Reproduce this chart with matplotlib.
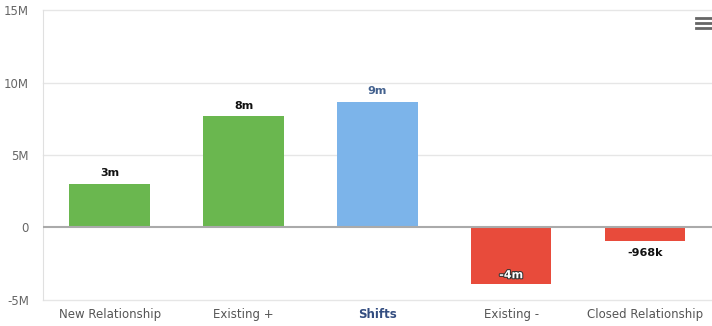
import matplotlib
matplotlib.use("Agg")
import matplotlib.pyplot as plt
import matplotlib.patheffects as pe

# data
categories = ["New Relationship", "Existing +", "Shifts", "Existing -", "Closed Relationship"]
values = [3.03e6, 7.66e6, 8.69e6, -3.93e6, -0.968e6]
labels = ["3m", "8m", "9m", "-4m", "-968k"]
colors = ["#6ab74f", "#6ab74f", "#7cb4ea", "#e84b3b", "#e84b3b"]
yticks = [-5e6, 0, 5e6, 10e6, 15e6]
ytick_labels = ["-5M", "0", "5M", "10M", "15M"]

fig = plt.figure(figsize=(7.12, 3.26), dpi=100)
ax = fig.add_axes([0.060, 0.080, 0.94, 0.889])

x = range(len(categories))
ax.bar(x, values, width=0.6, color=colors, zorder=3)

ax.set_xlim(-0.5, 4.5)
ax.set_ylim(-5e6, 15e6)
ax.set_yticks(yticks)
ax.set_yticklabels(ytick_labels)
ax.set_xticks(list(x))
ax.set_xticklabels(categories)

for t in ax.get_yticklabels():
    t.set_color("#666666")
    t.set_fontsize(8.5)
for i, t in enumerate(ax.get_xticklabels()):
    t.set_fontsize(8.5)
    if categories[i] == "Shifts":
        t.set_color("#334d80")
        t.set_fontweight("bold")
    else:
        t.set_color("#555555")

ax.tick_params(axis="x", length=0, pad=6)
ax.tick_params(axis="y", length=0, pad=10)

for y in yticks:
    if y == 0:
        continue
    ax.axhline(y, color="#e6e6e6", lw=1, zorder=1, clip_on=False)
ax.axhline(0, color="#aaaaaa", lw=1.5, zorder=4)

for s in ["top", "right", "bottom"]:
    ax.spines[s].set_visible(False)
ax.spines["left"].set_color("#e0e0e0")

# value labels
for i, (v, lab) in enumerate(zip(values, labels)):
    if i == 2:
        ax.annotate(lab, (i, v), xytext=(0, 4), textcoords="offset points",
                    ha="center", va="bottom", fontsize=8, fontweight="bold",
                    color="#44628f", zorder=5)
    elif i == 3:
        ax.annotate(lab, (i, v), xytext=(0, 3), textcoords="offset points",
                    ha="center", va="bottom", fontsize=8, fontweight="bold",
                    color="white", zorder=5,
                    path_effects=[pe.withStroke(linewidth=1.5, foreground="#333333")])
    elif v >= 0:
        ax.annotate(lab, (i, v), xytext=(0, 4), textcoords="offset points",
                    ha="center", va="bottom", fontsize=8, fontweight="bold",
                    color="#111111", zorder=5)
    else:
        ax.annotate(lab, (i, v), xytext=(0, -5), textcoords="offset points",
                    ha="center", va="top", fontsize=8, fontweight="bold",
                    color="#111111", zorder=5)

# menu icon
for yy in [0.945, 0.930, 0.915]:
    fig.add_artist(plt.Line2D([0.978, 1.0], [yy, yy], color="#666666", lw=2))

fig.savefig("out.png", dpi=100)
